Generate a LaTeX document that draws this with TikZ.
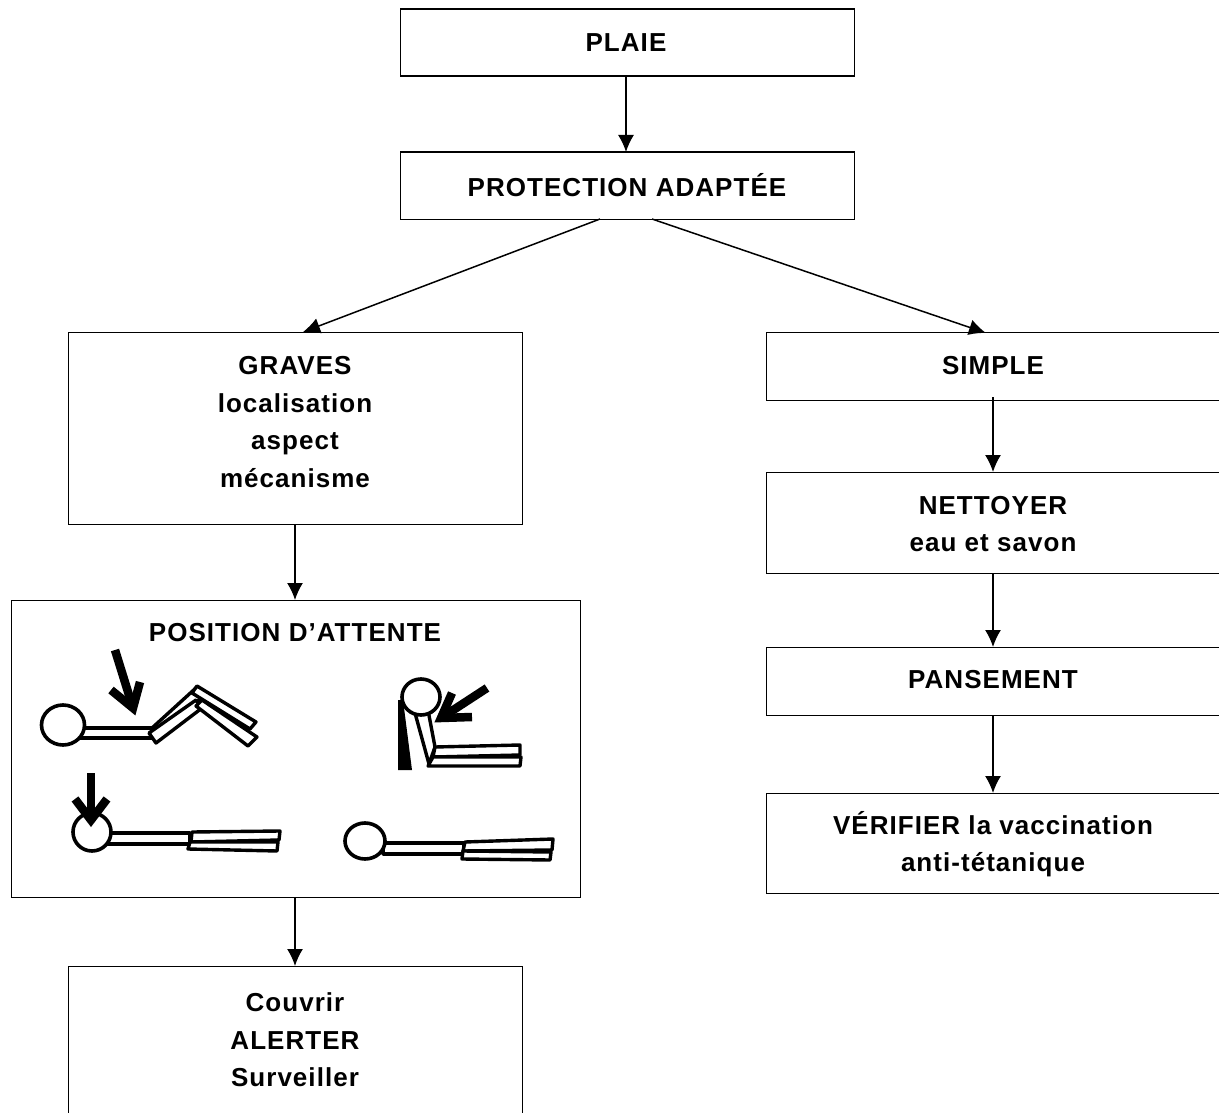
\documentclass[tikz,border=0pt]{standalone}
\usepackage{fontspec}
\setmainfont{Liberation Sans}[LetterSpace=4]
\usetikzlibrary{arrows.meta}
\tikzset{
  boxn/.style={draw=black,line width=1.4pt,fill=white,inner sep=0pt,anchor=north west},
  txt/.style={font=\fontsize{26}{37.6}\selectfont\bfseries,align=center,inner sep=0pt,anchor=center,text=black},
  conn/.style={draw=black,line width=1.5pt,-{Latex[length=17pt,width=16pt]}},
  limb/.style={draw=black,line width=3.4pt,fill=white,line join=round},
  head/.style={draw=black,line width=3.6pt,fill=white},
  hit/.style={draw=black,line width=8.5pt,line join=miter}
}
\newcommand{\boxat}[5]{\node[boxn,minimum width=#4pt,minimum height=#5pt] (#1) at (#2,#3) {};}
\begin{document}
\begin{tikzpicture}[x=1pt,y=-1pt]
\useasboundingbox (0,0) rectangle (1219,1113);
\clip (0,0) rectangle (1219,1113);
\boxat{plaie}{399.5}{8.5}{454}{67}
\boxat{prot}{399.5}{151.5}{454}{67}
\boxat{graves}{67.5}{331.5}{454}{192}
\boxat{pos}{10.5}{599.5}{569}{297}
\boxat{couv}{67.5}{965.5}{454}{170}
\boxat{simple}{765.5}{331.5}{460}{68}
\boxat{net}{765.5}{471.5}{460}{101}
\boxat{pans}{765.5}{646.5}{460}{68}
\boxat{verif}{765.5}{792.5}{460}{100}
\node[txt] (tplaie) at (626,43) {PLAIE};
\node[txt] (tprot) at (627,185) {PROTECTION ADAPTÉE};
\node[txt] (tgraves) at (295,422) {GRAVES\\localisation\\aspect\\mécanisme};
\node[txt] (tpos) at (295,633) {POSITION D’ATTENTE};
\node[txt] (tcouv) at (295,1040) {Couvrir\\ALERTER\\Surveiller};
\node[txt] (tsimple) at (993,366) {SIMPLE};
\node[txt] (tnet) at (993,524) {NETTOYER\\eau et savon};
\node[txt] (tpans) at (993,680) {PANSEMENT};
\node[txt] (tverif) at (993,844) {VÉRIFIER la vaccination\\anti-tétanique};
\coordinate (a1) at (626,76);
\coordinate (a2) at (626,152);
\draw[conn] (a1) -- (a2);
\coordinate (b1) at (600,219);
\coordinate (b2) at (303,332);
\draw[conn] (b1) -- (b2);
\coordinate (c1) at (652,219);
\coordinate (c2) at (986,333);
\draw[conn] (c1) -- (c2);
\coordinate (d1) at (295,524);
\coordinate (d2) at (295,600);
\draw[conn] (d1) -- (d2);
\coordinate (e1) at (295,897);
\coordinate (e2) at (295,966);
\draw[conn] (e1) -- (e2);
\coordinate (f1) at (993,397);
\coordinate (f2) at (993,472);
\draw[conn] (f1) -- (f2);
\coordinate (g1) at (993,573);
\coordinate (g2) at (993,647);
\draw[conn] (g1) -- (g2);
\coordinate (h1) at (993,715);
\coordinate (h2) at (993,793);
\draw[conn] (h1) -- (h2);
% figure 1
\draw[limb] (80,728) rectangle (152,738);
\draw[limb] (152,728) -- (197,687) -- (203,697) -- (152,735) -- cycle;
\draw[limb] (149,733) -- (196,700) -- (202,708) -- (156,743) -- cycle;
\draw[limb] (197,686) -- (256,722) -- (250,729) -- (192,693) -- cycle;
\draw[limb] (202,700) -- (257,737) -- (248,746) -- (196,706) -- cycle;
\draw[head] (63,725) ellipse (21.5 and 20);
\draw[hit] (115,650) -- (133,708);
\draw[hit] (111,690) -- (133,708) -- (140,682);
% figure 2
\draw[limb] (106,833) rectangle (190,844);
\draw[limb] (192,832) -- (280,831) -- (279,840) -- (191,842) -- cycle;
\draw[limb] (190,842) -- (278,842) -- (277,851) -- (188,849) -- cycle;
\draw[head] (92,832) circle (19);
\draw[hit] (91,773) -- (91,820);
\draw[hit] (75,799) -- (91,820) -- (107,799);
% figure 3
\fill[black] (398,700) -- (403,700) -- (412,770) -- (398,770) -- cycle;
\draw[limb] (415,713) -- (428,710) -- (435,747) -- (429,764) -- cycle;
\draw[limb] (435,747) -- (520,745) -- (520,755) -- (433,757) -- cycle;
\draw[limb] (433,757) -- (521,757) -- (520,766) -- (428,766) -- cycle;
\draw[head] (421,697) ellipse (19 and 18);
\draw[hit] (487,688) -- (441,718);
\draw[hit] (452,693) -- (441,718) -- (472,717);
% figure 4
\draw[limb] (383,843) rectangle (464,854);
\draw[limb] (465,842) -- (553,839) -- (552,850) -- (463,851) -- cycle;
\draw[limb] (463,851) -- (551,852) -- (550,860) -- (462,859) -- cycle;
\draw[head] (365,841) ellipse (20 and 18);
\end{tikzpicture}
\end{document}
